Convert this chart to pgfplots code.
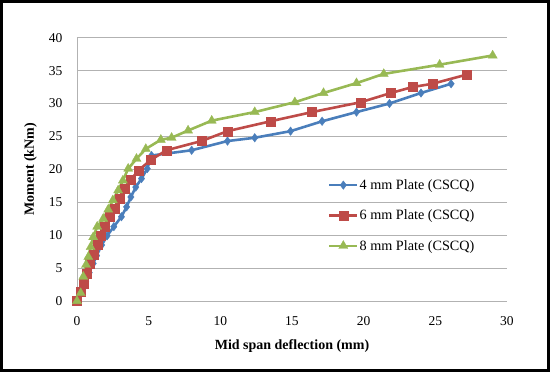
\documentclass[border=0pt]{standalone}
\usepackage{pgfplots}
\pgfplotsset{compat=1.18}
\usepackage{fontspec}
\setmainfont{Liberation Serif}
\definecolor{cblue}{HTML}{4A7EBB}
\definecolor{cred}{HTML}{BE4B48}
\definecolor{cgreen}{HTML}{98B954}
\begin{document}
\begin{tikzpicture}[x=1pt,y=1pt]
\begin{axis}[
  at={(0,0)}, anchor=origin,
  scale only axis, width=430pt, height=263.3pt,
  xmin=0, xmax=30, ymin=0, ymax=40,
  xtick={0,5,...,30}, ytick={0,5,...,40},
  axis lines=left,
  axis line style={-, draw=gray!60, line width=0.8pt},
  ymajorgrids, major grid style={gray!60, line width=0.8pt},
  tick style={draw=none},
  ticklabel style={font=\fontsize{13.5}{15}\selectfont},
  /pgf/number format/assume math mode=true,
  xticklabel style={yshift=-10pt},
  yticklabel style={xshift=-9pt},
  xlabel={\textbf{Mid span deflection (mm)}},
  ylabel={\textbf{Moment (kNm)}},
  label style={font=\fontsize{14}{16}\selectfont},
  x label style={at={(axis description cs:0.5,-0.171)}, anchor=center},
  y label style={at={(axis description cs:-0.108,0.5)}, anchor=center},
  legend style={at={(axis cs:17.5,18.8)}, anchor=north west, draw=none, fill=none,
    font=\fontsize{14.2}{16}\selectfont, row sep=15pt, inner sep=0pt,
    nodes={inner xsep=1pt}},
  legend cell align=left,
  legend image code/.code={\draw[mark repeat=2,mark phase=2] plot coordinates {(0pt,0pt) (14pt,0pt) (28pt,0pt)};},
  every axis plot/.append style={line width=2.6pt},
  clip=false,
]
\addplot[cblue, mark=diamond*, mark size=4.3pt, mark options={line width=0.3pt}] coordinates {
(0,0)(0.35,1.5)(0.6,3)(0.85,4.3)(1.13,5.7)(1.37,6.9)(1.72,8.5)(2.1,9.9)(2.57,11.3)(3.1,12.8)(3.46,14.3)(3.76,15.8)(4.1,17.3)(4.5,18.6)(4.9,20.1)(5.2,22.1)(8.0,22.9)(10.5,24.3)(12.4,24.8)(14.9,25.8)(17.1,27.3)(19.5,28.7)(21.8,30.0)(24.0,31.6)(26.1,33.0)};
\addlegendentry{4 mm Plate (CSCQ)}
\addplot[cred, mark=square*, mark size=4.5pt, mark options={line width=0.3pt}] coordinates {
(0,0)(0.26,1.4)(0.49,2.7)(0.67,4.2)(0.9,5.7)(1.13,7.0)(1.41,8.5)(1.65,10)(1.95,11.3)(2.3,12.8)(2.64,14.0)(2.99,15.6)(3.3,17.1)(3.74,18.4)(4.27,19.8)(5.13,21.4)(6.24,22.9)(8.68,24.3)(10.5,25.8)(13.5,27.3)(16.4,28.7)(19.8,30.2)(21.9,31.6)(23.4,32.5)(24.8,33.0)(27.2,34.4)};
\addlegendentry{6 mm Plate (CSCQ)}
\addplot[cgreen, mark=triangle*, mark size=5.3pt, mark options={line width=0.3pt}] coordinates {
(0,0)(0.26,1.2)(0.44,3.7)(0.63,5.5)(0.79,6.7)(0.95,8.2)(1.13,9.7)(1.41,11.3)(1.83,12.5)(2.18,13.9)(2.5,15.3)(2.87,16.8)(3.2,18.3)(3.57,20.1)(4.15,21.6)(4.8,23.1)(5.85,24.5)(6.6,24.8)(7.75,25.9)(9.4,27.4)(12.4,28.7)(15.2,30.2)(17.2,31.6)(19.5,33.1)(21.4,34.5)(25.3,35.9)(29.0,37.3)};
\addlegendentry{8 mm Plate (CSCQ)}
\end{axis}
\draw[line width=3pt] (-75.5,-69.5) rectangle (471.5,299.5);
\end{tikzpicture}
\end{document}
